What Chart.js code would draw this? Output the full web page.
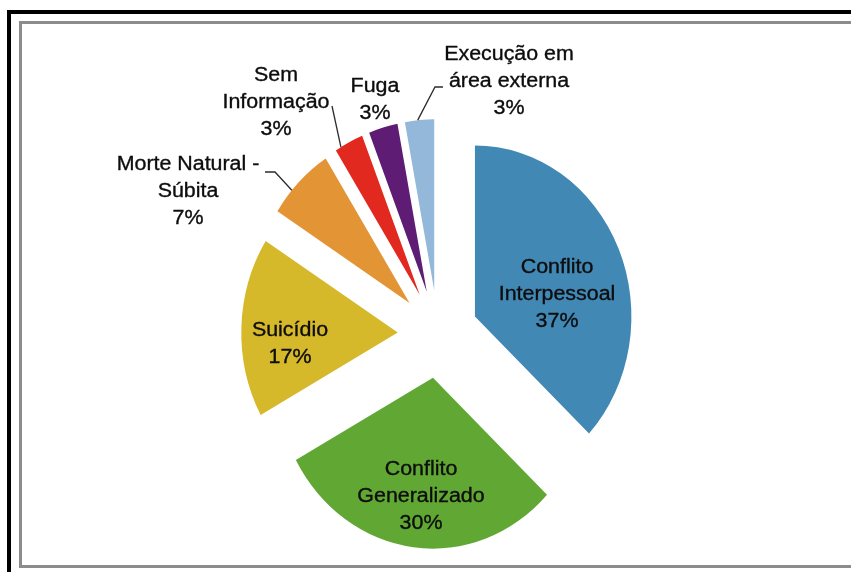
<!DOCTYPE html>
<html>
<head>
<meta charset="utf-8">
<script src="https://cdn.jsdelivr.net/npm/chart.js@4.4.0/dist/chart.umd.min.js"></script>
<style>
  html, body { margin: 0; padding: 0; background: #fff; overflow: hidden; }
  #wrap { position: relative; width: 851px; height: 572px; }
  .frame-outer { position: absolute; left: 7px; top: 10px; width: 900px; height: 600px;
                 border-left: 4px solid #000; border-top: 4px solid #000; }
  .frame-inner { position: absolute; left: 19px; top: 21px; width: 900px; height: 541px;
                 border: 3px solid #8c8c8c; border-right: none; }
  #chart { position: absolute; left: 0; top: 0; }
</style>
</head>
<body>
<div id="wrap">
  <div class="frame-outer"></div>
  <div class="frame-inner"></div>
  <canvas id="chart" width="851" height="572"></canvas>
</div>
<script>
// Causes of death, share of total (%)
const labelLines = [
  ['Conflito', 'Interpessoal'],
  ['Conflito', 'Generalizado'],
  ['Suicídio'],
  ['Morte Natural -', 'Súbita'],
  ['Sem', 'Informação'],
  ['Fuga'],
  ['Execução em', 'área externa']
];
const categories = labelLines.map(l => l.join(' '));
const percentages = [37, 30, 17, 7, 3, 3, 3];
const sliceColors = ['#4288b5', '#60a833', '#d5b92b', '#e39536', '#e2291f', '#5e1c75', '#93b8d9'];

// Pie geometry and label placement
const PIE = { radius: 171, squeeze: 0.915, explode: 44 };
const TEXT = { font: '20px "Liberation Sans", Arial, sans-serif', color: '#0d0d0d', lineGap: 27, stretch: 1.07 };
const labelPlacement = [
  { x: 557, y: 266 },
  { x: 421, y: 468 },
  { x: 290, y: 329 },
  { x: 188, y: 163, leader: { from: [[265, 172], [275, 172]], at: 0.35 } },
  { x: 276, y: 74,  leader: { from: [[332, 106]], at: 0.2 } },
  { x: 375, y: 85 },
  { x: 509, y: 53,  leader: { from: [[443, 87], [435, 87]], at: 0.44 } }
];

const explodedPie = {
  id: 'explodedPie',
  afterDatasetsUpdate(chart) {
    const arcs = chart.getDatasetMeta(0).data;
    arcs.forEach(arc => {
      const mid = (arc.startAngle + arc.endAngle) / 2;
      arc.x += Math.cos(mid) * PIE.explode;
      arc.y += Math.sin(mid) * PIE.explode;
    });
  },
  beforeDatasetsDraw(chart) {
    const ctx = chart.ctx;
    const cx = (chart.chartArea.left + chart.chartArea.right) / 2;
    ctx.save();
    ctx.translate(cx, 0);
    ctx.scale(PIE.squeeze, 1);
    ctx.translate(-cx, 0);
  },
  afterDatasetsDraw(chart) {
    const ctx = chart.ctx;
    ctx.restore();
    const cx = (chart.chartArea.left + chart.chartArea.right) / 2;
    const arcs = chart.getDatasetMeta(0).data;

    // leader lines from labels to slice edges
    ctx.save();
    ctx.strokeStyle = '#2b2b2b';
    ctx.lineWidth = 1.3;
    labelPlacement.forEach((p, i) => {
      if (!p.leader) return;
      const arc = arcs[i];
      const a = arc.startAngle + (arc.endAngle - arc.startAngle) * p.leader.at;
      const ex = cx + (arc.x + Math.cos(a) * arc.outerRadius - cx) * PIE.squeeze;
      const ey = arc.y + Math.sin(a) * arc.outerRadius;
      ctx.beginPath();
      p.leader.from.forEach((pt, k) => k ? ctx.lineTo(pt[0], pt[1]) : ctx.moveTo(pt[0], pt[1]));
      ctx.lineTo(ex, ey);
      ctx.stroke();
    });
    ctx.restore();

    // slice labels
    ctx.save();
    ctx.font = TEXT.font;
    ctx.fillStyle = TEXT.color;
    ctx.strokeStyle = TEXT.color;
    ctx.lineWidth = 0.35;
    ctx.textAlign = 'center';
    ctx.textBaseline = 'alphabetic';
    labelPlacement.forEach((p, i) => {
      const lines = labelLines[i].concat([percentages[i] + '%']);
      lines.forEach((line, k) => {
        ctx.save();
        ctx.translate(p.x, p.y + k * TEXT.lineGap + 7);
        ctx.scale(TEXT.stretch, 1);
        ctx.fillText(line, 0, 0);
        ctx.strokeText(line, 0, 0);
        ctx.restore();
      });
    });
    ctx.restore();
  }
};

new Chart(document.getElementById('chart'), {
  type: 'pie',
  data: {
    labels: categories,
    datasets: [{
      data: percentages,
      backgroundColor: sliceColors,
      borderWidth: 0
    }]
  },
  options: {
    responsive: false,
    animation: false,
    radius: PIE.radius,
    layout: { padding: { left: 25, right: 0, top: 96, bottom: 0 } },
    plugins: {
      legend: { display: false },
      tooltip: { enabled: false }
    },
    events: []
  },
  plugins: [explodedPie]
});
</script>
</body>
</html>
